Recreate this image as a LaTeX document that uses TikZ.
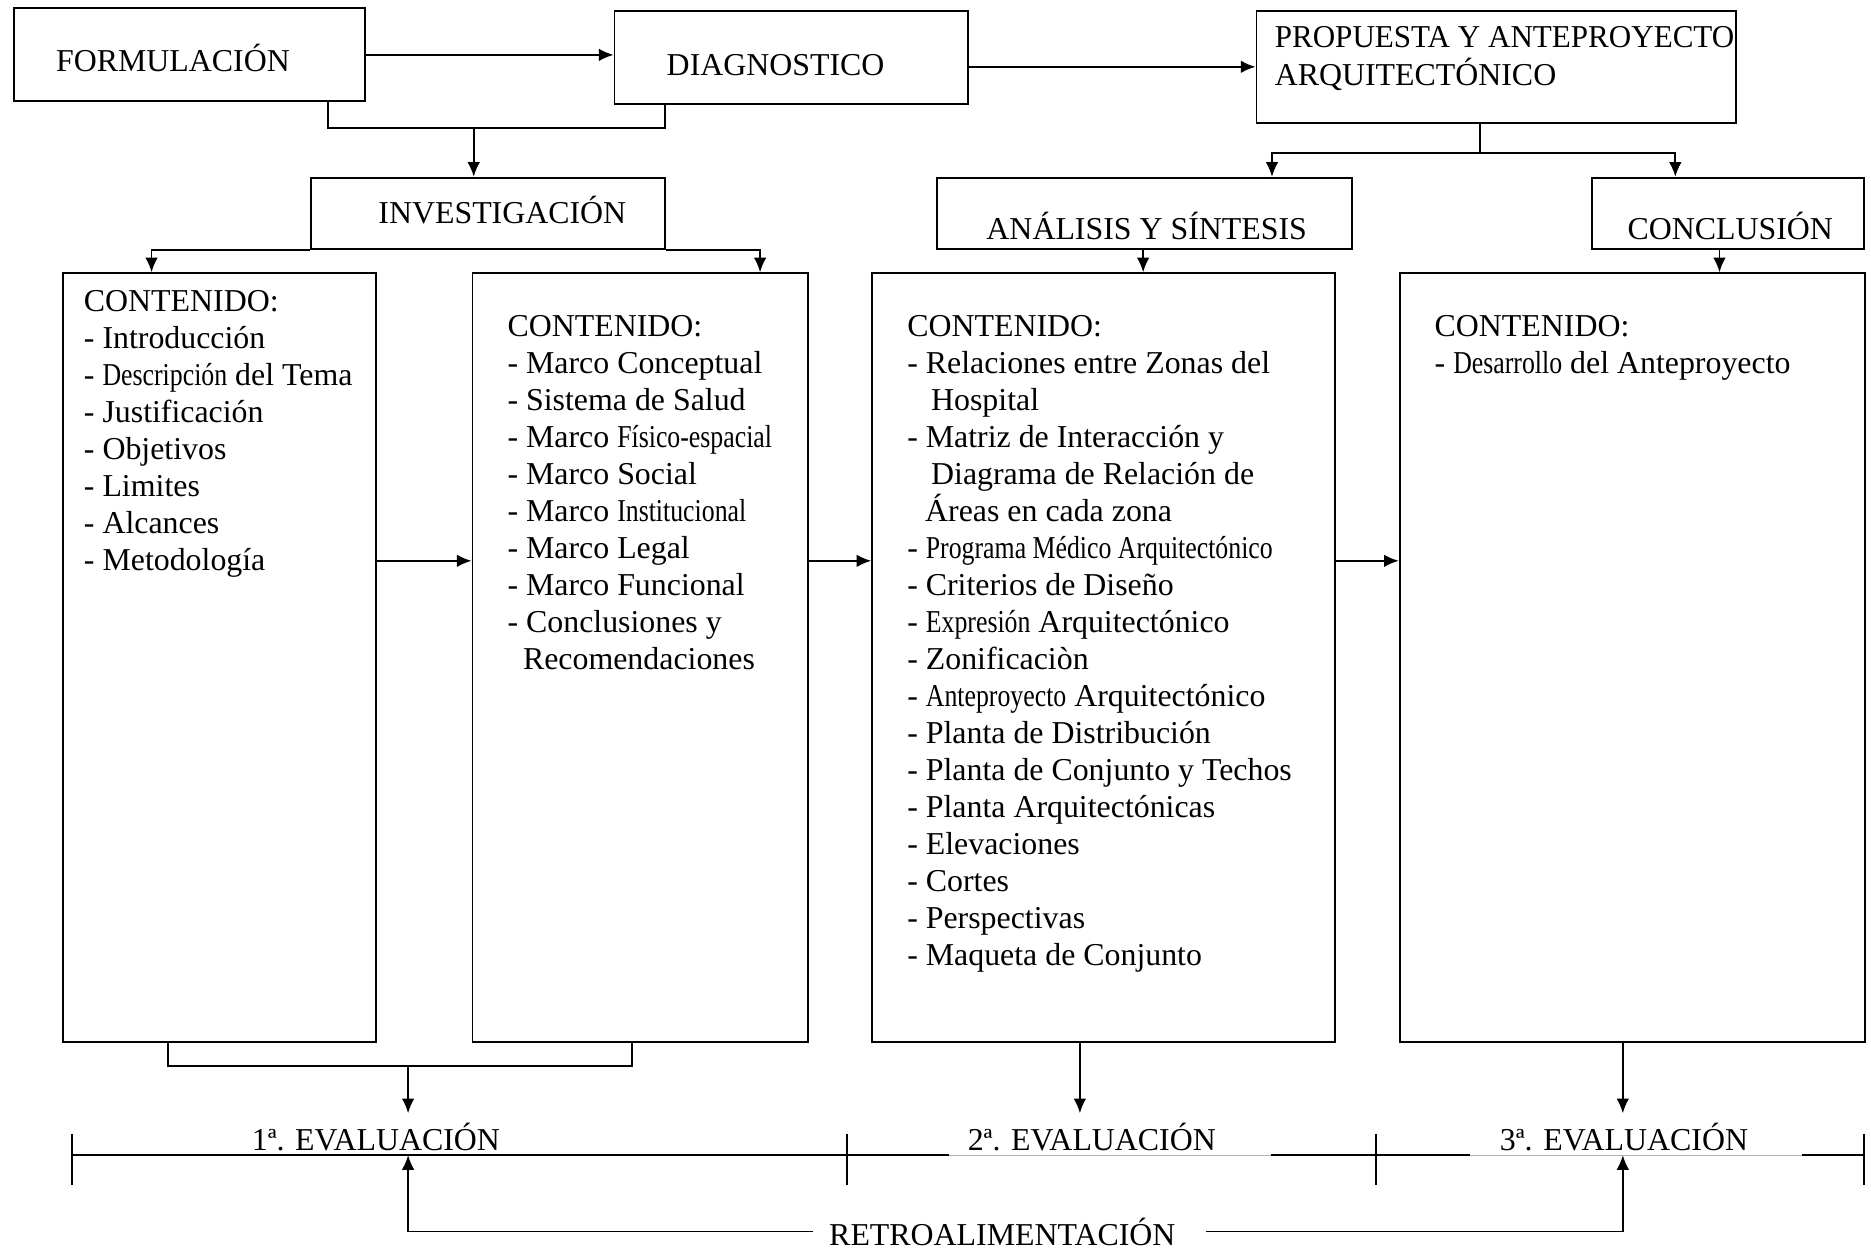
\documentclass[tikz,border=0pt]{standalone}
\usepackage{fontspec}
\setmainfont{Liberation Serif}
\usepackage{graphicx}
\usetikzlibrary{fit,arrows.meta}

\newcommand{\cond}[1]{\scalebox{0.81}[1]{#1}}

\tikzset{
  caja/.style={draw, line width=0.9pt, inner sep=0pt},
  txt/.style={font=\fontsize{15.2}{17.64}\selectfont, inner sep=0pt},
  lista/.style={txt, align=left, anchor=north west},
  linea/.style={line width=0.9pt},
}

\begin{document}
\begin{tikzpicture}[x=0.02cm,y=-0.02cm,>={Latex[length=7pt,width=6pt]}]
  \useasboundingbox (0,0) rectangle (1568,1049);

  % cajas de etapas
  \node[caja, fit={(12,7) (306,85)}] (form) {};
  \node[caja, fit={(515,9) (811,87)}] (diag) {};
  \node[caja, fit={(1053,9) (1455,103)}] (prop) {};
  \node[caja, fit={(261,149) (557,209)}] (inv) {};
  \node[caja, fit={(785,149) (1133,209)}] (anal) {};
  \node[caja, fit={(1334,149) (1562,209)}] (concl) {};

  \node[txt, anchor=base] (tform) at (145,60) {FORMULACIÓN};
  \node[txt, anchor=base] (tdiag) at (650,63) {DIAGNOSTICO};
  \node[txt, anchor=base west] (tprop1) at (1068,40) {\scalebox{0.975}[1]{PROPUESTA Y ANTEPROYECTO}};
  \node[txt, anchor=base west] (tprop2) at (1068,72) {ARQUITECTÓNICO};
  \node[txt, anchor=base] (tinv) at (421,187) {INVESTIGACIÓN};
  \node[txt, anchor=base] (tanal) at (961,201) {ANÁLISIS Y SÍNTESIS};
  \node[txt, anchor=base] (tconcl) at (1450,201) {CONCLUSIÓN};

  % cajas de contenido
  \node[caja, fit={(53,229) (315,873)}] (c1) {};
  \node[caja, fit={(396,229) (677,873)}] (c2) {};
  \node[caja, fit={(731,229) (1119,873)}] (c3) {};
  \node[caja, fit={(1173,229) (1563,873)}] (c4) {};

  \node[lista] (l1) at (70,243) {CONTENIDO:\\- Introducción\\- \cond{Descripción} del Tema\\- Justificación\\- Objetivos\\- Limites\\- Alcances\\- Metodología};
  \node[lista] (l2) at (425,264) {CONTENIDO:\\- Marco Conceptual\\- Sistema de Salud\\- Marco \cond{Físico-espacial}\\- Marco Social\\- Marco \cond{Institucional}\\- Marco Legal\\- Marco Funcional\\- Conclusiones y\\\hspace*{0.26cm}Recomendaciones};
  \node[lista] (l3) at (760,264) {CONTENIDO:\\- Relaciones entre Zonas del\\\hspace*{0.4cm}Hospital\\- Matriz de Interacción y\\\hspace*{0.4cm}Diagrama de Relación de\\\hspace*{0.3cm}Áreas en cada zona\\- \cond{Programa Médico Arquitectónico}\\- Criterios de Diseño\\- \cond{Expresión} Arquitectónico\\- Zonificaciòn\\- \cond{Anteproyecto} Arquitectónico\\- Planta de Distribución\\- Planta de Conjunto y Techos\\- Planta Arquitectónicas\\- Elevaciones\\- Cortes\\- Perspectivas\\- Maqueta de Conjunto};
  \node[lista] (l4) at (1202,264) {CONTENIDO:\\- \cond{Desarrollo} del Anteproyecto};

  % evaluaciones
  \node[txt, anchor=base] (e1) at (315,964) {1ª. EVALUACIÓN};
  \node[txt, anchor=base] (e2) at (915,964) {2ª. EVALUACIÓN};
  \node[txt, anchor=base] (e3) at (1361,964) {3ª. EVALUACIÓN};
  \node[txt, anchor=base] (retro) at (840,1044) {RETROALIMENTACIÓN};

  \coordinate (j1) at (397,107);
  \coordinate (j2) at (1240,128);
  \coordinate (j3) at (342,893);
  \coordinate (mid) at (0,470);
  \coordinate (ev) at (0,933);
  \coordinate (eline) at (0,968);
  \coordinate (fb) at (0,1032);

  % flechas superiores
  \draw[linea,->] (form.east) -- (form.east -| diag.west);
  \draw[linea,->] (prop.west -| diag.east) -- (prop.west);
  \draw[linea] (form.south -| 275,0) -- (275,107) -- (557,107) -- (diag.south -| 557,0);
  \draw[linea,->] (j1) -- (inv.north -| j1);
  \draw[linea,->] (inv.south west) -| (c1.north -| 127,0);
  \draw[linea,->] (inv.south east) -| (c2.north -| 637,0);
  \draw[linea] (prop.south -| j2) -- (j2);
  \draw[linea,->] (j2) -| (anal.north -| 1066,0);
  \draw[linea,->] (j2) -| (concl.north -| 1404,0);
  \draw[linea,->] (anal.south -| 958,0) -- (c3.north -| 958,0);
  \draw[linea,->] (concl.south -| 1441,0) -- (c4.north -| 1441,0);

  % flechas entre contenidos
  \draw[linea,->] (c1.east |- mid) -- (c2.west |- mid);
  \draw[linea,->] (c2.east |- mid) -- (c3.west |- mid);
  \draw[linea,->] (c3.east |- mid) -- (c4.west |- mid);

  % hacia las evaluaciones
  \draw[linea] (c1.south -| 141,0) -- (141,893) -- (530,893) -- (c2.south -| 530,0);
  \draw[linea,->] (j3) -- (j3 |- ev);
  \draw[linea,->] (c3.south -| 905,0) -- (905,933);
  \draw[linea,->] (c4.south -| 1360,0) -- (1360,933);

  % linea de evaluacion
  \draw[linea] (60,968) -- (795,968) (1065,968) -- (1232,968) (1510,968) -- (1562,968);
  \draw[gray!60, line width=0.4pt] (795,968) -- (1065,968) (1232,968) -- (1510,968);
  \foreach \tx in {60,710,1153,1562}
    \draw[linea] (\tx,950) -- (\tx,993);

  % retroalimentacion
  \draw[linea,->] ([xshift=-0.26cm]retro.west |- fb) -| (j3 |- eline);
  \draw[linea,->] ([xshift=0.5cm]retro.east |- fb) -| (1360,968);
\end{tikzpicture}
\end{document}
